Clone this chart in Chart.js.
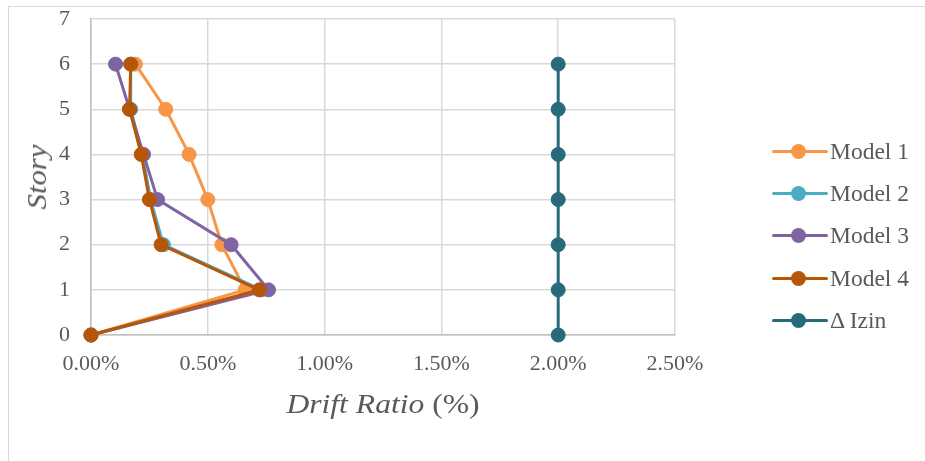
<!DOCTYPE html>
<html>
<head>
<meta charset="utf-8">
<script src="https://cdn.jsdelivr.net/npm/chart.js@4.4.1/dist/chart.umd.min.js"></script>
<style>
    body { margin: 0; background: #fff; }
    #wrap { position: relative; width: 925px; height: 461px; overflow: hidden; font-family: 'Liberation Serif', 'Times New Roman', serif; color: #595959; }
    #frame { position: absolute; left: 8px; top: 6px; width: 1200px; height: 1200px; border: 1px solid #d9d9d9; box-sizing: border-box; }
    #chart { position: absolute; left: 0; top: 0; }
    .ax-title { position: absolute; font-size: 27.5px; line-height: 28px; white-space: nowrap; }
    #x-title { left: 0; width: 766px; text-align: center; top: 390px; }
    #x-title span { display: inline-block; transform: scaleX(1.15); }
    #y-title { left: 37px; top: 177px; transform: translate(-50%, -50%) rotate(-90deg) scaleX(1.12); font-style: italic; }
    #legend { position: absolute; left: 772px; top: 130px; }
    .lg-row { display: flex; align-items: center; height: 42.4px; }
    .lg-sw { position: relative; width: 56px; height: 15px; }
    .lg-line { position: absolute; left: 0; right: 0; top: 6px; height: 3px; border-radius: 2px; }
    .lg-dot { position: absolute; left: 18.5px; top: 0; width: 15px; height: 15px; border-radius: 50%; }
    .lg-txt { margin-left: 2px; font-size: 23.5px; }
</style>
</head>
<body>
<div id="wrap">
    <div id="frame"></div>
    <canvas id="chart" width="925" height="461"></canvas>
    <div id="x-title" class="ax-title"><span><i>Drift Ratio</i> (%)</span></div>
    <div id="y-title" class="ax-title">Story</div>
    <div id="legend"></div>
</div>
<script>
    // story levels (y) and drift ratios in % (x)
    const stories = [0, 1, 2, 3, 4, 5, 6];
    const model1 = [0, 0.66, 0.56, 0.50, 0.42, 0.32, 0.19];
    const model2 = [0, 0.73, 0.31, 0.255, 0.22, 0.17, 0.17];
    const model3 = [0, 0.76, 0.60, 0.285, 0.225, 0.165, 0.105];
    const model4 = [0, 0.72, 0.30, 0.25, 0.215, 0.165, 0.17];
    const izin = [2, 2, 2, 2, 2, 2, 2];

    const seriesNames = ['Model 1', 'Model 2', 'Model 3', 'Model 4', '\u0394 Izin'];
    const seriesColors = ['#F79646', '#4BACC6', '#8064A2', '#B65708', '#276A7C'];
    const xTicks = [0, 0.5, 1, 1.5, 2, 2.5];

    const font = "'Liberation Serif', 'Times New Roman', serif";

    function toPoints(vals) {
        return vals.map((v, i) => ({x: v, y: stories[i]}));
    }

    const allSeries = [model1, model2, model3, model4, izin];
    const datasets = allSeries.map((vals, i) => ({
        label: seriesNames[i],
        data: toPoints(vals),
        showLine: true,
        borderColor: seriesColors[i],
        backgroundColor: seriesColors[i],
        borderWidth: 3,
        pointRadius: 7,
        pointBorderWidth: 1,
        pointHoverRadius: 7,
        clip: false,
        // later series on top, like the source
        order: allSeries.length - i
    }));

    const chart = new Chart(document.getElementById('chart'), {
        type: 'scatter',
        data: {datasets: datasets},
        options: {
            responsive: false,
            animation: false,
            layout: {padding: {top: 19, right: 250, left: 0, bottom: 0}},
            plugins: {legend: {display: false}, tooltip: {enabled: false}},
            scales: {
                x: {
                    type: 'linear',
                    min: xTicks[0],
                    max: xTicks[xTicks.length - 1],
                    afterBuildTicks: (s) => { s.ticks = xTicks.map(v => ({value: v})); },
                    afterFit: (s) => { s.height = 126; s.paddingLeft = 0; s.paddingRight = 0; },
                    ticks: {
                        padding: 16,
                        color: '#595959',
                        font: {family: font, size: 22},
                        callback: (v) => Number(v).toFixed(2) + '%'
                    },
                    grid: {color: '#d9d9d9', lineWidth: 1.5, drawTicks: false},
                    border: {color: '#bfbfbf', width: 1.5}
                },
                y: {
                    type: 'linear',
                    min: 0,
                    max: 7,
                    afterFit: (s) => { s.width = 91; s.paddingTop = 0; s.paddingBottom = 0; },
                    ticks: {
                        stepSize: 1,
                        padding: 21,
                        color: '#595959',
                        font: {family: font, size: 22}
                    },
                    grid: {color: '#d9d9d9', lineWidth: 1.5, drawTicks: false},
                    border: {color: '#bfbfbf', width: 1.5}
                }
            }
        }
    });

    // legend built from the chart's datasets
    const lg = document.getElementById('legend');
    chart.data.datasets.forEach((ds) => {
        const row = document.createElement('div');
        row.className = 'lg-row';
        row.innerHTML = '<div class="lg-sw"><div class="lg-line" style="background:' + ds.borderColor + '"></div>' +
            '<div class="lg-dot" style="background:' + ds.borderColor + '"></div></div>' +
            '<div class="lg-txt">' + ds.label + '</div>';
        lg.appendChild(row);
    });
</script>
</body>
</html>
